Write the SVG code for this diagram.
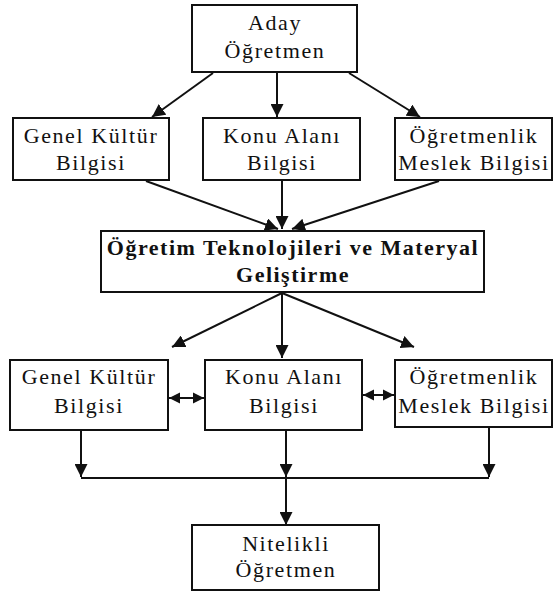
<svg xmlns="http://www.w3.org/2000/svg" width="553" height="592" viewBox="0 0 553 592">
<defs>
<style>
.box{fill:#fff;stroke:#111;stroke-width:2}
.t{font-family:"Liberation Serif","Times New Roman",serif;font-size:22px;letter-spacing:1.6px;fill:#111;text-anchor:middle}
.b{font-family:"Liberation Serif","Times New Roman",serif;font-size:22px;font-weight:bold;letter-spacing:1.5px;fill:#111;text-anchor:middle}
.ln{stroke:#111;stroke-width:2;fill:none}
.ar{marker-end:url(#ah)}
.bi{marker-start:url(#ah2);marker-end:url(#ah2)}
</style>
<marker id="ah" viewBox="0 0 10 10" refX="10" refY="5" markerUnits="userSpaceOnUse" markerWidth="13" markerHeight="13" orient="auto">
<path d="M0,0 L10,5 L0,10 z" fill="#111"/>
</marker>
<marker id="ah2" viewBox="0 0 10 10" refX="10" refY="5" markerUnits="userSpaceOnUse" markerWidth="11" markerHeight="12" orient="auto-start-reverse">
<path d="M0,0 L10,5 L0,10 z" fill="#111"/>
</marker>
</defs>
<rect width="553" height="592" fill="#fff"/>
<g id="connectors">
<line class="ln ar" x1="213" y1="73" x2="152" y2="117"/>
<line class="ln ar" x1="277" y1="73" x2="277" y2="117"/>
<line class="ln ar" x1="349" y1="73" x2="420" y2="117"/>
<line class="ln ar" x1="146" y1="181" x2="278" y2="229"/>
<line class="ln ar" x1="282" y1="181" x2="282" y2="229"/>
<line class="ln ar" x1="439" y1="181" x2="292" y2="229"/>
<line class="ln ar" x1="282" y1="293" x2="172" y2="347"/>
<line class="ln ar" x1="282" y1="293" x2="282" y2="358"/>
<line class="ln ar" x1="282" y1="293" x2="414" y2="347"/>
<line class="ln bi" x1="169" y1="398" x2="204" y2="398"/>
<line class="ln bi" x1="363" y1="395" x2="394" y2="395"/>
<line class="ln ar" x1="81" y1="431" x2="81" y2="477"/>
<line class="ln ar" x1="286" y1="431" x2="286" y2="477"/>
<line class="ln ar" x1="489" y1="428" x2="489" y2="477"/>
<line class="ln" x1="81" y1="478" x2="489" y2="478"/>
<line class="ln ar" x1="286" y1="478" x2="286" y2="525"/>
</g>
<g id="aday">
<rect class="box" x="192" y="5" width="165" height="67"/>
<text class="t" x="275" y="30">Aday</text>
<text class="t" x="275" y="58">Öğretmen</text>
</g>
<g id="genel1">
<rect class="box" x="13" y="118" width="156" height="62"/>
<text class="t" x="91" y="143">Genel Kültür</text>
<text class="t" x="91" y="170">Bilgisi</text>
</g>
<g id="konu1">
<rect class="box" x="203" y="118" width="157" height="62"/>
<text class="t" x="282" y="143">Konu Alanı</text>
<text class="t" x="282" y="170">Bilgisi</text>
</g>
<g id="meslek1">
<rect class="box" x="395" y="118" width="157" height="62"/>
<text class="t" x="474" y="143">Öğretmenlik</text>
<text class="t" x="474" y="170">Meslek Bilgisi</text>
</g>
<g id="teknoloji">
<rect class="box" x="101" y="231" width="383" height="61"/>
<text class="b" x="293" y="255">Öğretim Teknolojileri ve Materyal</text>
<text class="b" x="293" y="282">Geliştirme</text>
</g>
<g id="genel2">
<rect class="box" x="10" y="360" width="158" height="70"/>
<text class="t" x="89" y="384">Genel Kültür</text>
<text class="t" x="89" y="413">Bilgisi</text>
</g>
<g id="konu2">
<rect class="box" x="205" y="360" width="157" height="70"/>
<text class="t" x="284" y="384">Konu Alanı</text>
<text class="t" x="284" y="413">Bilgisi</text>
</g>
<g id="meslek2">
<rect class="box" x="395" y="360" width="157" height="67"/>
<text class="t" x="474" y="384">Öğretmenlik</text>
<text class="t" x="474" y="413">Meslek Bilgisi</text>
</g>
<g id="nitelikli">
<rect class="box" x="192" y="525" width="187" height="65"/>
<text class="t" x="286" y="551">Nitelikli</text>
<text class="t" x="286" y="577">Öğretmen</text>
</g>
</svg>
